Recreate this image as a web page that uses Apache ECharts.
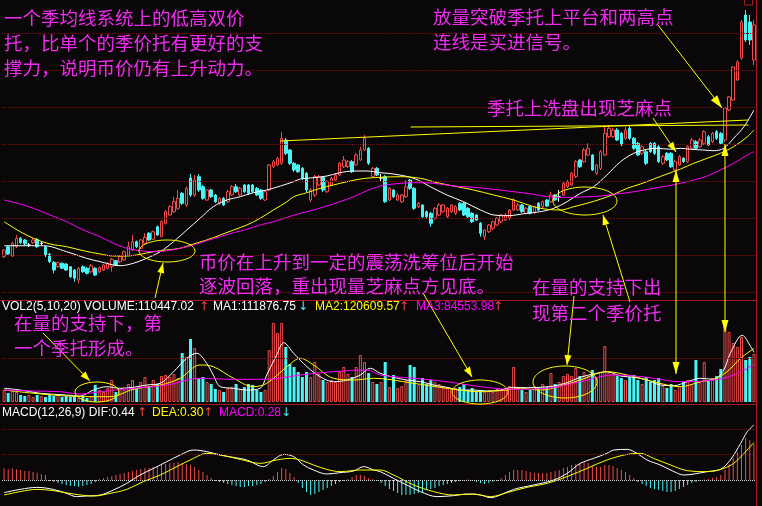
<!DOCTYPE html>
<html><head><meta charset="utf-8">
<script src="https://cdn.jsdelivr.net/npm/echarts@6/dist/echarts.min.js"></script>
<style>html,body{margin:0;padding:0;background:#0a0708;}#c{width:762px;height:506px;}</style>
</head><body><div id="c"></div>
<script>
// ---------- DATA ----------
// daily candles: [open, close, low, high]
const candles = [
[4.33,5.0,4.2,5.1],[5.33,4.6,4.5,5.4],[4.4,5.67,4.3,5.8],[5.33,6.17,5.2,6.5],[6.17,5.73,5.6,6.3],[6.0,5.6,5.5,6.1],[5.5,5.5,5.3,5.7],[5.73,6.0,5.6,6.2],[6.07,5.33,5.2,6.2],[5.67,5.67,5.5,5.85],
[5.33,4.5,4.3,5.4],[4.6,3.83,3.7,4.7],[3.77,3.0,2.67,3.9],[3.33,3.73,3.2,3.85],[3.67,3.17,3.1,3.75],[3.6,3.0,2.9,3.7],[3.33,2.33,2.2,3.4],[3.0,2.17,1.83,3.1],[2.0,3.17,1.67,3.3],[3.33,2.83,2.7,3.45],
[3.17,2.67,2.55,3.3],[2.83,3.43,2.7,3.6],[3.17,2.5,2.4,3.3],[2.83,3.23,2.7,3.35],[3.0,3.5,2.9,3.6],[3.17,3.67,3.05,3.8],[3.33,4.07,2.83,4.2],[3.93,3.5,3.4,4.0],[3.83,4.33,3.7,4.45],[4.0,4.83,3.9,4.95],
[4.5,5.33,4.4,5.83],[5.0,5.83,4.9,6.5],[5.83,5.33,5.2,5.95],[5.17,6.0,5.1,6.1],[5.67,6.27,5.55,6.67],[6.67,6.0,5.9,6.8],[6.07,6.83,6.0,6.95],[7.33,6.5,6.4,7.45],[6.33,7.83,6.3,8.0],[7.67,8.83,7.55,9.0],
[8.5,9.33,8.4,9.5],[8.83,9.83,8.7,10.33],[9.17,10.17,9.0,11.0],[10.67,9.67,9.5,10.8],[9.5,11.17,9.3,11.33],[12.2,10.5,10.3,12.6],[10.5,12.0,10.3,12.5],[12.33,11.0,10.8,12.6],[11.33,10.17,10.0,11.5],[10.0,11.0,9.9,11.1],
[11.0,10.33,10.2,11.1],[10.5,9.83,9.7,10.6],[9.67,10.17,9.5,10.3],[10.17,9.5,9.4,10.3],[9.83,10.83,9.7,11.0],[10.5,11.33,10.4,11.5],[11.33,10.83,10.7,11.6],[10.5,11.17,10.4,11.3],[11.5,10.83,10.7,11.6],[11.5,10.67,10.5,11.6],
[11.5,10.83,10.7,11.6],[11.17,10.5,10.4,11.3],[11.0,10.17,10.0,11.1],[10.0,10.83,9.9,11.0],[11.0,13.5,10.9,13.6],[13.33,13.83,13.2,14.0],[13.5,14.17,13.4,14.3],[13.67,16.17,13.5,16.83],[16.0,14.67,14.5,16.2],[15.0,13.67,13.5,15.1],
[13.67,13.0,12.8,13.8],[13.5,12.83,12.7,13.6],[13.17,12.17,12.0,13.3],[12.67,11.0,10.8,12.8],[10.0,11.0,9.8,11.2],[10.5,12.33,10.3,12.5],[11.5,12.33,11.4,12.5],[12.27,11.0,10.8,12.4],[10.83,11.83,10.7,12.0],[11.5,12.17,11.4,12.3],
[12.0,12.5,11.9,12.7],[12.5,13.67,12.4,13.8],[13.33,14.0,13.2,14.4],[13.33,13.83,13.2,14.0],[13.83,12.83,12.7,14.0],[13.5,14.5,13.4,14.7],[14.0,15.0,13.9,15.3],[15.0,16.17,14.9,16.5],[15.17,13.67,13.5,15.3],[12.33,13.17,12.2,13.3],
[13.17,12.5,12.4,13.3],[12.2,12.2,11.9,12.6],[12.33,9.83,9.7,12.5],[10.0,11.17,9.9,11.3],[11.0,10.33,10.2,11.1],[10.0,10.5,9.9,10.7],[9.83,10.5,9.7,10.6],[10.33,11.33,10.2,12.0],[12.0,11.17,11.0,12.1],[11.17,9.17,9.0,11.3],
[9.33,9.67,9.2,9.8],[9.5,8.33,8.2,9.6],[8.83,8.33,8.2,8.95],[8.67,7.67,7.33,8.8],[8.17,9.17,8.0,9.3],[8.5,9.5,8.4,9.7],[8.83,9.5,8.7,9.6],[8.33,9.17,8.2,9.3],[8.83,9.5,8.7,9.6],[8.67,9.33,8.5,9.5],
[9.67,9.0,8.9,9.8],[9.67,8.5,8.4,9.8],[9.17,8.33,8.2,9.3],[8.67,7.83,7.7,8.8],[8.5,8.0,7.9,8.6],[7.67,6.67,6.33,7.8],[6.33,7.0,6.0,7.1],[6.83,7.5,6.7,7.6],[7.17,7.83,7.0,7.95],[7.5,8.17,7.4,8.3],
[7.83,8.5,7.7,8.6],[8.0,8.5,7.9,8.7],[8.17,9.0,8.0,9.1],[9.0,10.0,8.9,10.17],[9.0,9.5,8.9,9.7],[9.5,8.83,8.7,9.6],[8.67,9.17,8.55,9.3],[9.33,8.67,8.55,9.45],[8.73,9.33,8.6,9.45],[9.67,9.0,8.9,9.8],
[9.33,9.83,9.2,9.95],[10.0,9.4,9.3,10.1],[9.83,10.5,9.7,10.83],[10.5,10.0,9.9,10.6],[10.33,10.33,9.83,11.0],[10.5,11.67,10.4,11.8],[11.33,11.83,11.2,12.0],[11.5,12.67,11.4,12.8],[12.33,13.83,12.2,14.0],[14.0,13.33,13.2,14.1],
[13.83,15.0,13.7,15.2],[14.5,15.17,14.4,15.67],[14.5,13.0,12.9,14.6],[12.67,13.5,12.5,13.6],[13.17,14.83,13.0,15.0],[14.5,16.67,14.4,17.33],[16.33,17.17,16.2,17.5],[16.33,17.0,16.2,17.2],[17.0,16.0,15.9,17.2],[16.67,15.5,15.4,16.8],
[16.17,17.0,16.0,17.3],[17.17,16.17,16.0,17.4],[16.17,15.17,15.0,16.3],[15.67,14.5,14.4,15.8],[14.67,15.33,14.5,15.5],[14.83,13.67,13.5,15.0],[15.67,14.83,14.7,15.8],[15.67,14.67,14.5,15.8],[15.33,13.83,13.7,15.5],[13.67,14.33,13.5,14.5],
[14.67,14.0,13.9,14.8],[14.67,13.33,13.2,14.8],[13.0,13.83,12.83,14.0],[13.5,14.33,13.4,14.5],[14.17,13.83,13.7,14.3],[13.83,15.33,13.7,15.5],[15.17,16.0,15.0,16.2],[15.83,15.17,15.0,16.0],[15.33,16.0,15.2,16.2],[15.67,16.83,15.5,17.0],
[16.33,15.5,15.4,16.5],[15.83,16.67,15.7,16.8],[16.83,16.17,16.0,17.0],[16.67,15.67,15.5,16.8],[16.0,19.2,15.8,19.3],[19.0,20.3,18.9,20.4],[20.0,23.3,19.9,23.4],[22.0,23.8,21.9,24.0],[24.2,27.8,24.0,28.0],[28.5,26.0,25.8,29.0],
[27.8,26.0,25.5,28.5],[24.0,27.5,23.5,28.0]
];
const volume = [
27000,20250,24750,22500,15750,13500,15750,11250,15750,13500,
11250,15750,13500,15750,11250,13500,11250,13500,9000,11250,
9000,13500,38250,27000,22500,31500,49500,22500,29250,27000,
40500,49500,31500,45000,56250,36000,49500,40500,58500,60750,
56250,63000,54000,110250,101250,141750,121500,54000,56250,45000,
40500,29250,27000,22500,31500,33750,40500,29250,33750,40500,
38250,27000,22500,27000,117000,177750,155250,177750,123750,85500,
78750,67500,56250,67500,56250,90000,63000,49500,45000,49500,
45000,67500,78750,63000,56250,78750,105750,90000,65250,45000,
40500,45000,90000,33750,60750,31500,36000,49500,83250,78750,
38250,54000,40500,49500,45000,40500,31500,33750,29250,31500,
33750,40500,27000,31500,22500,27000,22500,27000,22500,29250,
27000,31500,36000,78750,31500,27000,22500,27000,36000,31500,
40500,33750,65250,40500,45000,58500,63000,58500,76500,58500,
67500,58500,72000,54000,67500,126000,67500,63000,58500,54000,
49500,56250,60750,49500,40500,56250,45000,49500,54000,36000,
31500,40500,27000,36000,45000,49500,40500,94500,45000,90000,
49500,54000,58500,74250,184500,157500,132750,123750,146250,94500,
101250,108000
];
const macdHist = [
0.094,0.086,0.094,0.086,0.08,0.072,0.072,0.066,0.058,0.048,0.04,
-0.008,-0.016,-0.024,-0.032,-0.04,-0.048,-0.048,-0.056,-0.048,-0.04,-0.032,-0.016,
0.008,0.016,0.024,0.032,0.04,0.048,0.056,0.064,0.072,0.08,0.088,0.096,0.096,0.104,0.112,0.12,0.128,0.136,0.136,0.144,0.136,0.128,0.12,0.104,0.08,0.064,0.04,0.016,
-0.008,-0.016,-0.024,-0.032,-0.04,-0.048,-0.056,-0.056,-0.048,-0.048,-0.04,-0.032,-0.016,
0.008,0.032,0.064,0.096,0.088,0.056,0.024,
-0.024,-0.064,-0.096,-0.12,-0.112,-0.096,-0.08,-0.064,-0.048,-0.032,-0.016,
-0.008,0.008,0.024,0.04,0.04,0.032,0.016,0.008,-0.008,
-0.024,-0.048,-0.072,-0.088,-0.104,-0.12,-0.12,-0.12,-0.112,-0.104,-0.096,-0.08,-0.072,-0.064,-0.048,-0.04,-0.032,-0.024,-0.016,-0.008,
-0.004,0.004,-0.008,-0.016,-0.024,-0.032,-0.024,-0.016,-0.008,
0.016,0.04,0.064,0.08,0.08,0.08,0.072,0.064,0.056,0.056,0.056,0.056,0.064,0.072,0.08,0.096,0.104,0.12,0.128,0.136,0.144,0.136,0.112,0.104,0.104,0.12,0.12,0.112,0.096,0.08,0.064,0.04,0.016,
-0.016,-0.032,-0.048,-0.064,-0.072,-0.08,-0.088,-0.096,-0.096,-0.088,-0.072,-0.056,-0.04,-0.024,-0.016,-0.008,
0.004,0.008,0.016,0.024,0.04,0.08,0.128,0.176,0.224,0.28,0.336,0.32,0.288
];
// price moving averages, read at sample points: [day index, price]
const priceMA1 = [[0,5.43],[9.5,5.43],[15.1,4.83],[19.9,4.17],[23.2,3.83],[26.4,3.5],[28,3.43],[31.2,3.67],[34.4,4.17],[37.7,4.83],[40.9,5.83],[44.1,7.0],[47.3,8.17],[50.5,9.33],[53.8,10.0],[57,10.33],[60.2,10.73],[63.4,11.0],[66.7,11.4],[69.9,11.83],[71.5,12.1],[74.7,12.23],[77.9,12.4],[81.1,12.73],[84.4,12.9],[87.6,12.9],[90.8,12.73],[94,12.6],[98.9,12.17],[102.9,11.33],[106.9,10.5],[110.9,9.83],[115,9.0],[118.2,8.5],[121.4,8.43],[126.2,8.67],[129.4,8.83],[132.7,9.17],[135.9,9.83],[139.1,10.67],[142.3,11.33],[145.5,12.5],[148.8,13.83],[152,14.67],[155.2,15.07],[157.6,15.17],[160.9,15.07],[163.3,15.17],[165.7,15.07],[168.9,15.0],[171.3,14.93],[173.7,15.17],[176.1,16.17],[178.6,17.33],[181,19.0]];
const priceMA2 = [[0,7.83],[3.9,6.83],[7.1,6.17],[11.1,5.6],[15.1,5.33],[19.1,4.93],[23.2,4.6],[26.4,4.4],[29.6,4.4],[32.8,4.57],[36.1,4.83],[39.3,5.0],[42.5,5.17],[45.7,5.6],[48.9,6.0],[52.2,6.5],[55.4,7.0],[58.6,7.5],[61.8,8.17],[65,9.0],[68.3,9.83],[69.9,10.33],[73.1,10.73],[76.3,11.17],[79.5,11.5],[82.8,11.83],[86,12.1],[89.2,12.23],[95.6,12.33],[100.5,12.17],[104.5,11.73],[108.5,11.4],[113.3,11.0],[118.2,10.5],[123,10.0],[127.8,9.33],[131.1,9.07],[134.3,9.0],[137.5,9.33],[140.7,9.67],[143.9,10.07],[147.2,10.57],[150.4,11.17],[153.6,11.6],[156.8,12.1],[160,12.6],[163.3,13.1],[166.5,13.67],[169.7,14.17],[172.9,14.67],[176.1,15.33],[179.4,16.33],[181,17.0]];
const priceMA3 = [[0,10.0],[3.9,9.6],[7.1,9.17],[11.1,8.5],[15.1,7.83],[19.1,7.0],[23.2,6.33],[26.4,5.67],[29.6,5.17],[32.8,4.93],[36.1,4.83],[39.3,4.93],[42.5,5.17],[45.7,5.5],[48.9,5.93],[52.2,6.33],[55.4,6.73],[58.6,7.07],[61.8,7.5],[65,7.83],[68.3,8.27],[71.5,8.67],[74.7,9.0],[77.9,9.4],[81.1,9.83],[84.4,10.33],[87.6,10.93],[90.8,11.4],[94,11.6],[98.9,11.73],[103.7,11.67],[108.5,11.4],[113.3,11.27],[118.2,11.07],[123,10.83],[127.8,10.57],[131.1,10.33],[134.3,10.27],[137.5,10.27],[140.7,10.33],[143.9,10.4],[147.2,10.57],[150.4,10.73],[153.6,10.93],[156.8,11.17],[160,11.4],[163.3,11.67],[166.5,12.0],[169.7,12.4],[172.9,13.0],[176.1,13.67],[179.4,14.5],[181,14.83]];
// volume moving averages: [day index, volume]
const volMA1 = [[0,30825],[3.9,27000],[8.7,19575],[15.1,15750],[18.3,13500],[21.6,27000],[24.8,34425],[28,30825],[31.2,33075],[34.4,38250],[37.7,42075],[40.9,68175],[44.1,98325],[46.5,109575],[48.9,87075],[50.5,60750],[52.2,34425],[55.4,30825],[58.6,27000],[61.8,30825],[63.4,60750],[65.8,105750],[67.5,133425],[69.9,109575],[73.1,79425],[76.3,56925],[79.5,45675],[82.8,49500],[86,60750],[88.4,75825],[90.8,64575],[94,55575],[97.2,49500],[100.5,45675],[103.7,38250],[106.9,33075],[110.1,27000],[113.3,27000],[116.6,24750],[119.8,27000],[123,33075],[126.2,32175],[129.4,33075],[132.7,36000],[135.9,43425],[139.1,55575],[142.3,63000],[145.5,68175],[148.8,58500],[152,55575],[155.2,49500],[158.4,38250],[161.7,36675],[164.9,45675],[168.1,53325],[171.3,51075],[173.7,72000],[175.3,109575],[178.2,150000],[180.2,125000],[181,111877]];
const volMA2 = [[0,27000],[7.1,19575],[15.1,13500],[21.6,11925],[25.6,11925],[31.2,28575],[37.7,38250],[42.5,53325],[47.3,83250],[50.5,79425],[55.4,53325],[60.2,34425],[63.4,42075],[68.3,79425],[71.5,98325],[74.7,83250],[79.5,53325],[84.4,49500],[89.2,53325],[98.9,42075],[106.9,30825],[115,23175],[121.4,27000],[124.6,30825],[129.4,27000],[134.3,36000],[139.1,49500],[145.5,68175],[150.4,60750],[155.2,49500],[160,38250],[163.3,34425],[168.1,45675],[171.3,51075],[174.5,68175],[177.8,98325],[181,120610]];
const volMA3 = [[0,27000],[7.1,24750],[13.5,23175],[18.3,18000],[23.2,23175],[31.2,30825],[39.3,38250],[47.3,53325],[55.4,51075],[63.4,51075],[71.5,60750],[79.5,68175],[87.6,72000],[90.8,60750],[98.9,53325],[106.9,45675],[115,34425],[123,28575],[131.1,30825],[139.1,45675],[147.2,60750],[155.2,55575],[163.3,45675],[171.3,49500],[176.1,60750],[181,84554]];
// MACD lines: [day index, value]
const macdDIF = [[0,-0.101],[3.9,-0.075],[7.9,-0.059],[11.9,-0.075],[15.1,-0.107],[17.5,-0.133],[19.9,-0.128],[23.2,-0.12],[26.4,-0.08],[29.6,-0.027],[32.8,0.04],[36.1,0.093],[39.3,0.147],[42.5,0.2],[45.7,0.24],[48.9,0.227],[52.2,0.2],[55.4,0.181],[58.6,0.16],[62.6,0.107],[65,0.16],[67.5,0.205],[69.9,0.187],[72.3,0.12],[74.7,0.08],[77.9,0.048],[81.1,0.059],[84.4,0.072],[86.8,0.107],[89.2,0.08],[90.8,0.067],[94,0.013],[97.2,-0.04],[100.5,-0.093],[104.5,-0.133],[108.5,-0.125],[111.7,-0.112],[115,-0.12],[117.4,-0.141],[119.8,-0.12],[123,-0.075],[127.8,-0.04],[132.7,0],[135.9,0.053],[139.1,0.133],[142.3,0.173],[145.5,0.213],[147.2,0.24],[150.4,0.245],[152.8,0.213],[155.2,0.16],[158.4,0.12],[161.7,0.067],[164.1,0.04],[166.5,0.048],[169.7,0.067],[172.9,0.085],[175.3,0.16],[177.8,0.293],[179.4,0.387],[181,0.44]];
const macdDEA = [[0,-0.12],[3.9,-0.093],[7.9,-0.075],[11.9,-0.085],[16.7,-0.112],[21.6,-0.128],[25.6,-0.107],[29.6,-0.075],[33.6,-0.013],[37.7,0.04],[41.7,0.107],[45.7,0.173],[48.9,0.213],[52.2,0.2],[57,0.165],[61.8,0.133],[65.8,0.16],[69.1,0.173],[71.5,0.16],[74.7,0.12],[77.9,0.085],[81.1,0.067],[86,0.08],[90.8,0.08],[94,0.04],[98.9,-0.04],[103.7,-0.093],[108.5,-0.12],[113.3,-0.112],[117.4,-0.133],[121.4,-0.101],[126.2,-0.059],[131.1,-0.027],[135.9,0.027],[140.7,0.093],[145.5,0.16],[150.4,0.205],[153.6,0.213],[156.8,0.173],[160.9,0.12],[164.9,0.075],[169.7,0.067],[173.7,0.093],[176.1,0.133],[178.6,0.213],[181,0.3]];
// trend lines drawn on the price panel: [day index, price]
const trendLine1 = [[66.6,15.9],[179.7,18.0]];
const trendLine2 = [[98.1,17.3],[179.7,17.5]];
// reference levels (dotted grid)
const priceLevels = [26.7,23.0,19.3,15.6,11.9,8.2,4.5,0.8];
const volLevels = [99000];
const macdLevels = [0.408,0.208];
// header texts
const volHeader = ['VOL2(5,10,20) VOLUME:110447.02','MA1:111876.75','MA2:120609.57','MA3:84553.98'];
const macdHeader = ['MACD(12,26,9) DIF:0.44','DEA:0.30','MACD:0.28'];
const notes = [
 '一个季均线系统上的低高双价','托，比单个的季价托有更好的支','撑力，说明币价仍有上升动力。',
 '放量突破季托上平台和两高点','连线是买进信号。',
 '季托上洗盘出现芝麻点',
 '币价在上升到一定的震荡洗筹位后开始','逐波回落，重出现量芝麻点方见底。',
 '在量的支持下出','现第二个季价托',
 '在量的支持下，第','一个季托形成。'
];

// ---------- STYLE ----------
const BG='#0a0708', RED='#f04a4a', CYAN='#48f4f4', YEL='#ffff00', MAG='#ff00ff', WHITE='#ffffff', GRID='#5e1c1c', FRAME='#a81c1c', NOTE='#f02cf0';
const N = candles.length;
const days = candles.map((_, i) => 'D' + (i + 1));

const candleData = candles.map(c => c[0] === c[1]
  ? {value: c, itemStyle: {color: WHITE, color0: WHITE, borderColor: WHITE, borderColor0: WHITE}}
  : c);
const volData = volume.map((v, i) => ({
  value: v,
  itemStyle: candles[i][1] >= candles[i][0]
    ? {color: BG, borderColor: RED, borderWidth: 1}
    : {color: CYAN, borderColor: CYAN, borderWidth: 0}
}));
const histData = macdHist.map(v => ({value: v, itemStyle: {color: v >= 0 ? RED : CYAN}}));

function levelLines(vals, color, type) {
  return {silent: true, symbol: ['none','none'], label: {show: false},
    lineStyle: {color: color, type: type || 'dotted', width: 1},
    data: vals.map(v => ({yAxis: v}))};
}
function ln(data, color, xi, yi, smooth) {
  return {type: 'line', data: data, xAxisIndex: xi, yAxisIndex: yi, showSymbol: false, symbol: 'none',
    smooth: smooth === undefined ? 0.35 : smooth, silent: true, lineStyle: {color: color, width: 1}, z: 3};
}

const gridBase = {left: 2, right: 6};
const option = {
  backgroundColor: BG,
  animation: false,
  grid: [
    Object.assign({top: 0, height: 300}, gridBase),
    Object.assign({top: 300, height: 102}, gridBase),
    Object.assign({top: 405, height: 100}, gridBase)
  ],
  xAxis: [
    {type: 'category', data: days, gridIndex: 0, show: false, boundaryGap: true},
    {type: 'value', min: -0.5, max: N - 0.5, gridIndex: 0, show: false},
    {type: 'category', data: days, gridIndex: 1, show: false, boundaryGap: true},
    {type: 'value', min: -0.5, max: N - 0.5, gridIndex: 1, show: false},
    {type: 'category', data: days, gridIndex: 2, show: false, boundaryGap: true},
    {type: 'value', min: -0.5, max: N - 0.5, gridIndex: 2, show: false}
  ],
  yAxis: [
    {type: 'value', min: 0, max: 30, gridIndex: 0, show: false, splitLine: {show: false}},
    {type: 'value', min: 0, max: 229500, gridIndex: 1, show: false, splitLine: {show: false}},
    {type: 'value', min: -0.2, max: 0.6, gridIndex: 2, show: false, splitLine: {show: false}}
  ],
  series: [
    {type: 'candlestick', data: candleData, xAxisIndex: 0, yAxisIndex: 0, barWidth: 3, silent: true,
     itemStyle: {color: BG, color0: CYAN, borderColor: RED, borderColor0: CYAN, borderWidth: 1},
     markLine: levelLines(priceLevels, GRID), z: 2},
    ln(priceMA1, WHITE, 1, 0), ln(priceMA2, YEL, 1, 0), ln(priceMA3, MAG, 1, 0),
    ln(trendLine1, YEL, 1, 0, false), ln(trendLine2, YEL, 1, 0, false),
    {type: 'bar', data: volData, xAxisIndex: 2, yAxisIndex: 1, barWidth: 3, silent: true,
     markLine: levelLines(volLevels, GRID)},
    ln(volMA1, WHITE, 3, 1), ln(volMA2, YEL, 3, 1), ln(volMA3, MAG, 3, 1),
    {type: 'bar', data: histData, xAxisIndex: 4, yAxisIndex: 2, barWidth: 1, silent: true,
     markLine: {silent: true, symbol: ['none','none'], label: {show: false},
       data: [
         ...macdLevels.map(v => ({yAxis: v, lineStyle: {color: GRID, type: 'dotted', width: 1}})),
         {yAxis: 0, lineStyle: {color: '#d8d8d8', type: 'dotted', width: 1}}
       ]}},
    ln(macdDIF, WHITE, 5, 2), ln(macdDEA, YEL, 5, 2)
  ],
  graphic: []
};

// ---------- annotations ----------
const G = option.graphic;
function txt(s, x, y, color, font) {
  G.push({type: 'text', x: x, y: y, z: 100, silent: true,
    style: {text: s, fill: color, font: font, textVerticalAlign: 'middle', verticalAlign: 'middle', textAlign: 'left', align: 'left'}});
}
function line(x1, y1, x2, y2, color, w) {
  G.push({type: 'line', z: 90, silent: true, shape: {x1, y1, x2, y2}, style: {stroke: color, lineWidth: w || 1}});
}
function head(x1, y1, x2, y2, L, W) {
  const d = Math.hypot(x2 - x1, y2 - y1), ux = (x2 - x1) / d, uy = (y2 - y1) / d;
  const bx = x2 - ux * L, by = y2 - uy * L;
  G.push({type: 'polygon', z: 91, silent: true,
    shape: {points: [[x2, y2], [bx - uy * W, by + ux * W], [bx + uy * W, by - ux * W]]}, style: {fill: YEL}});
}
function arrow(x1, y1, x2, y2, both, L, W) {
  line(x1, y1, x2, y2, YEL, 1);
  head(x1, y1, x2, y2, L || 10, W || 3.5);
  if (both) head(x2, y2, x1, y1, L || 10, W || 3.5);
}
function ell(cx, cy, rx, ry) {
  G.push({type: 'ellipse', z: 90, silent: true, shape: {cx, cy, rx, ry}, style: {stroke: YEL, fill: null, lineWidth: 1}});
}
// frame
line(0, 300.5, 756, 300.5, FRAME, 1);
line(0, 404.5, 756, 404.5, FRAME, 1);
line(756.5, 0, 756.5, 506, FRAME, 1);
G.push({type: 'rect', z: 90, silent: true, shape: {x: 744.5, y: -1, width: 8, height: 6}, style: {stroke: FRAME, fill: null}});

// ellipses
ell(167, 251, 28, 11);
ell(585, 201, 32, 14);
ell(97, 392, 22, 10);
ell(480, 392, 28, 12);
ell(565, 382, 32, 16);
// arrows
arrow(43, 333, 90, 381);
arrow(155, 298, 163, 263);
arrow(423, 293, 472, 377);
arrow(574, 296, 567, 365);
arrow(630, 302, 603, 215);
arrow(653, 118, 676, 152);
arrow(658, 25, 722, 108, false, 13, 4);
arrow(676, 374, 676, 170, true, 12, 3.5);
arrow(725, 332, 725, 144, true, 12, 3.5);

// notes
const NF = '18.5px "Noto Sans CJK SC"';
txt(notes[0], 4, 18, NOTE, NF);
txt(notes[1], 4, 43, NOTE, NF);
txt(notes[2], 4, 68, NOTE, NF);
txt(notes[3], 433, 17, NOTE, NF);
txt(notes[4], 433, 42, NOTE, NF);
txt(notes[5], 487, 108, NOTE, NF);
txt(notes[6], 199, 262, NOTE, NF);
txt(notes[7], 199, 286, NOTE, NF);
txt(notes[8], 532, 287, NOTE, NF);
txt(notes[9], 532, 313, NOTE, NF);
txt(notes[10], 14, 323, NOTE, NF);
txt(notes[11], 14, 348, NOTE, NF);

// headers
const HF = '12px "Liberation Sans", Arial, sans-serif';
const AF = '12px "DejaVu Sans", sans-serif';
txt(volHeader[0], 2, 307, WHITE, HF);
txt('↑', 199, 307, RED, AF);
txt(volHeader[1], 213, 307, WHITE, HF);
txt('↓', 298, 307, CYAN, AF);
txt(volHeader[2], 315, 307, YEL, HF);
txt('↑', 399, 307, RED, AF);
txt(volHeader[3], 416, 307, MAG, HF);
txt('↑', 493, 307, RED, AF);
txt(macdHeader[0], 2, 413, WHITE, HF);
txt('↑', 137, 413, RED, AF);
txt(macdHeader[1], 152, 413, YEL, HF);
txt('↑', 203, 413, RED, AF);
txt(macdHeader[2], 219, 413, MAG, HF);
txt('↓', 281, 413, CYAN, AF);

const chart = echarts.init(document.getElementById('c'), null, {renderer: 'canvas'});
chart.setOption(option);
</script></body></html>
